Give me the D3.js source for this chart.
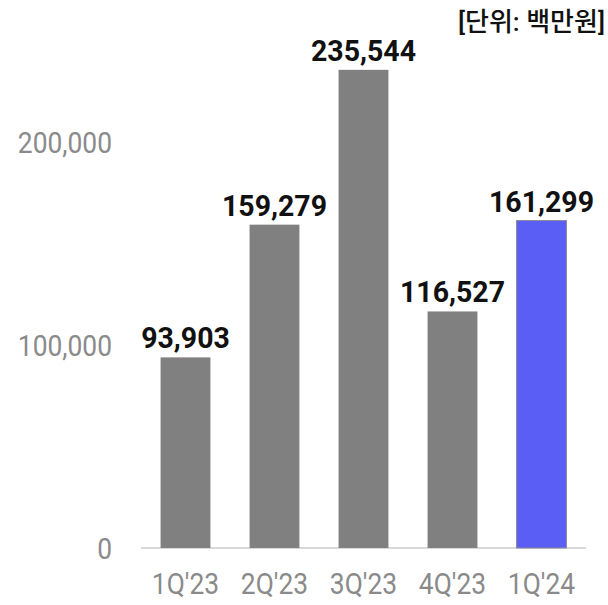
<!DOCTYPE html>
<html><head><meta charset="utf-8">
<script src="https://cdn.jsdelivr.net/npm/d3@7"></script>
<style>body{margin:0;background:#fff}</style>
</head><body>
<svg id="c" width="608" height="605"></svg>
<script>
const categories = ["1Q'23","2Q'23","3Q'23","4Q'23","1Q'24"];
const values = [93903,159279,235544,116527,161299];
const highlight = [false,false,false,false,true];
const yTicks = [0,100000,200000];
const unitLabel = "[단위: 백만원]";

const svg = d3.select("#c");
const x = d3.scaleBand().domain(categories).range([141,586]).paddingInner(0.44).paddingOuter(0.22);
const y = d3.scaleLinear().domain([0,100000]).range([548,345]);
const fmt = d3.format(",");
const font = "Roboto, 'Noto Sans CJK KR', sans-serif";

svg.append("line").attr("x1",141).attr("x2",586).attr("y1",y(0)).attr("y2",y(0))
  .attr("stroke","#d9d9d9").attr("stroke-width",2);

svg.selectAll("rect.bar").data(values).join("rect")
  .attr("x",(d,i)=>x(categories[i])).attr("width",x.bandwidth())
  .attr("y",d=>y(d)).attr("height",d=>y(0)-y(d))
  .attr("fill",(d,i)=>highlight[i]?"#5b5ef4":"#808080")
  .attr("stroke",(d,i)=>highlight[i]?"#8a8a9a":"none").attr("stroke-width",1);

svg.selectAll("text.val").data(values).join("text")
  .attr("transform",(d,i)=>`translate(${x(categories[i])+x.bandwidth()/2},${y(d)-9}) scale(0.95,1)`)
  .attr("text-anchor","middle").attr("font-family",font).attr("font-weight","bold")
  .attr("font-size",30).attr("fill","#111").text(d=>fmt(d));

const yAxis = d3.axisLeft(y).tickValues(yTicks).tickFormat(fmt).tickSize(0).tickPadding(0);
const gy = svg.append("g").attr("transform","translate(112,0)").call(yAxis);
gy.select(".domain").remove();
gy.selectAll("text").attr("font-family",font).attr("font-size",29).attr("fill","#8a8a8a")
  .attr("dy","0.35em").attr("transform","scale(0.91,1)");

const xAxis = d3.axisBottom(x).tickSize(0).tickPadding(0);
const gx = svg.append("g").attr("transform","translate(0,594)").call(xAxis);
gx.select(".domain").remove();
gx.selectAll("text").attr("font-family",font).attr("font-size",30).attr("fill","#8a8a8a")
  .attr("dy","0").attr("transform","scale(0.88,1)");

svg.append("text").attr("x",605).attr("y",31).attr("text-anchor","end")
  .attr("font-family",font).attr("font-size",26).attr("font-weight","500").attr("fill","#111").text(unitLabel);
</script>
</body></html>
